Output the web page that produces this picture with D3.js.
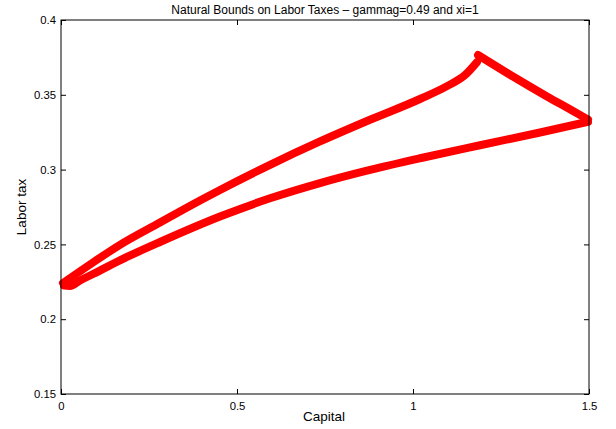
<!DOCTYPE html>
<html>
<head>
<meta charset="utf-8">
<script src="https://cdn.jsdelivr.net/npm/d3@7"></script>
<style>
  html, body { margin: 0; padding: 0; background: #fff; }
  svg { display: block; }
  text { font-family: "Liberation Sans", Arial, Helvetica, sans-serif; fill: #000; }
</style>
</head>
<body>
<svg id="chart" width="616" height="429"></svg>
<script>
// ---- data ----
const title = "Natural Bounds on Labor Taxes \u2013 gammag=0.49 and xi=1";
const xLabel = "Capital";
const yLabel = "Labor tax";
const xTicks = [0, 0.5, 1, 1.5];
const xTickLabels = ["0", "0.5", "1", "1.5"];
const yTicks = [0.15, 0.2, 0.25, 0.3, 0.35, 0.4];
const yTickLabels = ["0.15", "0.2", "0.25", "0.3", "0.35", "0.4"];

// upper branch (capital, labor tax)
const upperK = [0.0057, 0.0824, 0.1619, 0.2813, 0.3949, 0.4517, 0.5938, 0.7358, 0.8778, 1.0199, 1.0966, 1.1477, 1.1818];
const upperT = [0.2242, 0.2366, 0.2489, 0.2646, 0.2793, 0.2864, 0.3032, 0.3188, 0.3333, 0.3472, 0.3558, 0.3632, 0.3719];
// descending branch from the peak to the right edge
const descK = [1.1847, 1.2841, 1.3807, 1.4545, 1.4972];
const descT = [0.3766, 0.3622, 0.3489, 0.3392, 0.3335];
// lower branch
const lowerK = [0.0085, 0.0256, 0.0540, 0.0909, 0.1875, 0.2813, 0.4517, 0.5938, 0.7358, 0.8778, 1.0199, 1.1903, 1.3608, 1.4972];
const lowerT = [0.2225, 0.2222, 0.2259, 0.2302, 0.2416, 0.2516, 0.2686, 0.2808, 0.2910, 0.2998, 0.3076, 0.3163, 0.3248, 0.3320];

// ---- layout ----
const svg = d3.select("#chart");
const m = { left: 61, right: 589, top: 20, bottom: 394 };
const x = d3.scaleLinear().domain([0, 1.5]).range([m.left, m.right]);
const y = d3.scaleLinear().domain([0.15, 0.4]).range([m.bottom, m.top]);

const lineGen = d3.line().x(d => x(d[0])).y(d => y(d[1])).curve(d3.curveMonotoneX);
const series = [
  d3.zip(upperK, upperT),
  d3.zip(descK, descT),
  d3.zip(lowerK, lowerT)
];

const plot = svg.append("g");
plot.selectAll("path.band").data(series).join("path")
  .attr("class", "band")
  .attr("d", lineGen)
  .attr("fill", "none")
  .attr("stroke", "#ff0000")
  .attr("stroke-width", 8)
  .attr("stroke-linecap", "round")
  .attr("stroke-linejoin", "round");

// axes box
svg.append("rect")
  .attr("x", m.left).attr("y", m.top)
  .attr("width", m.right - m.left).attr("height", m.bottom - m.top)
  .attr("fill", "none").attr("stroke", "#000").attr("stroke-width", 1);

const tickLen = 5;
// bottom axis (inward ticks)
const xb = svg.append("g").attr("transform", `translate(0,${m.bottom})`)
  .call(d3.axisBottom(x).tickValues(xTicks).tickSizeInner(-tickLen).tickSizeOuter(0)
        .tickPadding(8).tickFormat((d, i) => xTickLabels[i]));
// top axis ticks
const xt = svg.append("g").attr("transform", `translate(0,${m.top})`)
  .call(d3.axisTop(x).tickValues(xTicks).tickSizeInner(-tickLen).tickSizeOuter(0).tickFormat(""));
// left axis
const yl = svg.append("g").attr("transform", `translate(${m.left},0)`)
  .call(d3.axisLeft(y).tickValues(yTicks).tickSizeInner(-tickLen).tickSizeOuter(0)
        .tickPadding(5).tickFormat((d, i) => yTickLabels[i]));
// right axis ticks
const yr = svg.append("g").attr("transform", `translate(${m.right},0)`)
  .call(d3.axisRight(y).tickValues(yTicks).tickSizeInner(-tickLen).tickSizeOuter(0).tickFormat(""));

[xb, xt, yl, yr].forEach(g => {
  g.select(".domain").remove();
  g.selectAll(".tick line").attr("stroke", "#000");
  g.selectAll(".tick text").attr("font-family", "Liberation Sans, Arial, sans-serif")
    .attr("font-size", 11.3).attr("fill", "#000");
});

// title
svg.append("text")
  .attr("x", 325).attr("y", 14)
  .attr("text-anchor", "middle").attr("font-size", 12)
  .text(title);

// x label
svg.append("text")
  .attr("x", 324).attr("y", 421)
  .attr("text-anchor", "middle").attr("font-size", 13.5)
  .text(xLabel);

// y label
svg.append("text")
  .attr("transform", `translate(26,${(m.top + m.bottom) / 2}) rotate(-90)`)
  .attr("text-anchor", "middle").attr("font-size", 13.5)
  .text(yLabel);
</script>
</body>
</html>
